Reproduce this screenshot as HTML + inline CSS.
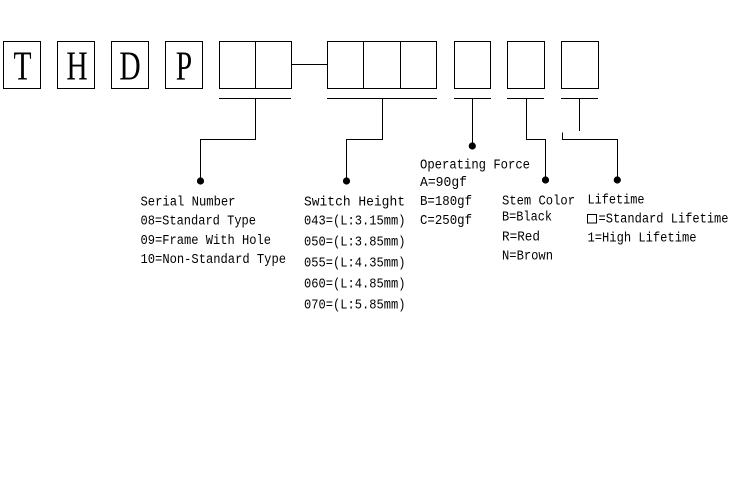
<!DOCTYPE html>
<html>
<head>
<meta charset="utf-8">
<style>
html,body{margin:0;padding:0;background:#fff;}
svg{display:block;}
.t{font-family:"Liberation Mono","DejaVu Sans Mono",monospace;font-size:13.5px;fill:#000;}
.L{font-family:"Liberation Serif",serif;font-size:41px;fill:#000;}
</style>
</head>
<body>
<svg width="730" height="500" viewBox="0 0 730 500" xmlns="http://www.w3.org/2000/svg">
<rect width="730" height="500" fill="#fff"/>
<g fill="none" stroke="#000" stroke-width="1">
  <rect x="3.5" y="41.5" width="37" height="47"/>
  <rect x="57.5" y="41.5" width="37" height="47"/>
  <rect x="111.5" y="41.5" width="37" height="47"/>
  <rect x="165.5" y="41.5" width="37" height="47"/>
  <rect x="219.5" y="41.5" width="72" height="47"/>
  <line x1="255.5" y1="41.5" x2="255.5" y2="88.5"/>
  <line x1="291.5" y1="64.5" x2="327.5" y2="64.5"/>
  <rect x="327.5" y="41.5" width="109" height="47"/>
  <line x1="363.5" y1="41.5" x2="363.5" y2="88.5"/>
  <line x1="400.5" y1="41.5" x2="400.5" y2="88.5"/>
  <rect x="454.5" y="41.5" width="36" height="47"/>
  <rect x="507.5" y="41.5" width="37" height="47"/>
  <rect x="561.5" y="41.5" width="37" height="47"/>
  <line x1="219" y1="98.5" x2="291" y2="98.5"/>
  <line x1="327" y1="98.5" x2="437" y2="98.5"/>
  <line x1="454" y1="98.5" x2="491" y2="98.5"/>
  <line x1="507" y1="98.5" x2="544" y2="98.5"/>
  <line x1="561" y1="98.5" x2="598" y2="98.5"/>
  <path d="M255.5 98.5 V139.5 H200.5 V181"/>
  <path d="M382.5 98.5 V139.5 H346.5 V181"/>
  <path d="M472.5 98.5 V146"/>
  <path d="M526.5 98.5 V139.5 H545.5 V180"/>
  <path d="M579.5 98.5 V131"/>
  <path d="M562.5 132.5 V139.5 H617.5 V180"/>
  <rect x="587.5" y="214.5" width="9" height="8.5"/>
</g>
<g fill="#000">
  <circle cx="200.5" cy="181" r="3.6"/>
  <circle cx="346.5" cy="181" r="3.6"/>
  <circle cx="472.3" cy="146" r="3.6"/>
  <circle cx="545.5" cy="180" r="3.6"/>
  <circle cx="617.3" cy="180" r="3.6"/>
</g>
<g class="L" text-anchor="middle">
  <text transform="translate(22.5 79.5) scale(0.72 1)">T</text>
  <text transform="translate(77 79.5) scale(0.72 1)">H</text>
  <text transform="translate(130 79.5) scale(0.72 1)">D</text>
  <text transform="translate(184 79.5) scale(0.72 1)">P</text>
</g>
<g class="t">
  <text x="140.5" y="205.5" textLength="95" lengthAdjust="spacingAndGlyphs">Serial Number</text>
  <text x="140.5" y="224.7" textLength="115.5" lengthAdjust="spacingAndGlyphs">08=Standard Type</text>
  <text x="140.5" y="244" textLength="130.5" lengthAdjust="spacingAndGlyphs">09=Frame With Hole</text>
  <text x="140.5" y="263" textLength="145.5" lengthAdjust="spacingAndGlyphs">10=Non-Standard Type</text>

  <text x="304" y="205.5" textLength="101" lengthAdjust="spacingAndGlyphs">Switch Height</text>
  <text x="304" y="224.5" textLength="101.5" lengthAdjust="spacingAndGlyphs">043=(L:3.15mm)</text>
  <text x="304" y="245.5" textLength="101.5" lengthAdjust="spacingAndGlyphs">050=(L:3.85mm)</text>
  <text x="304" y="266.5" textLength="101.5" lengthAdjust="spacingAndGlyphs">055=(L:4.35mm)</text>
  <text x="304" y="287.5" textLength="101.5" lengthAdjust="spacingAndGlyphs">060=(L:4.85mm)</text>
  <text x="304" y="308.5" textLength="101.5" lengthAdjust="spacingAndGlyphs">070=(L:5.85mm)</text>

  <text x="420" y="168.3" textLength="110" lengthAdjust="spacingAndGlyphs">Operating Force</text>
  <text x="420" y="186" textLength="47" lengthAdjust="spacingAndGlyphs">A=90gf</text>
  <text x="420" y="205" textLength="52" lengthAdjust="spacingAndGlyphs">B=180gf</text>
  <text x="420" y="224" textLength="52" lengthAdjust="spacingAndGlyphs">C=250gf</text>

  <text x="502" y="204.5" textLength="73" lengthAdjust="spacingAndGlyphs">Stem Color</text>
  <text x="502" y="220.7" textLength="50" lengthAdjust="spacingAndGlyphs">B=Black</text>
  <text x="502" y="240.7" textLength="38" lengthAdjust="spacingAndGlyphs">R=Red</text>
  <text x="502" y="259.3" textLength="51" lengthAdjust="spacingAndGlyphs">N=Brown</text>

  <text x="587.5" y="203.5" textLength="57" lengthAdjust="spacingAndGlyphs">Lifetime</text>
  <text x="598.5" y="222.7" textLength="130" lengthAdjust="spacingAndGlyphs">=Standard Lifetime</text>
  <text x="587.5" y="241.5" textLength="109" lengthAdjust="spacingAndGlyphs">1=High Lifetime</text>
</g>
</svg>
</body>
</html>
